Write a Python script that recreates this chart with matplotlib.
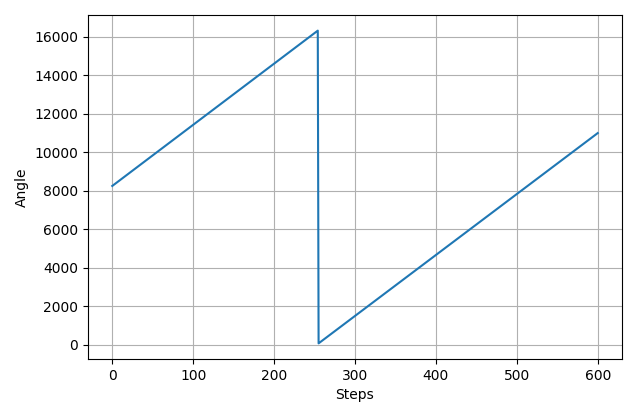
import matplotlib
matplotlib.use("Agg")
import matplotlib.pyplot as plt

# breakpoints
steps = [0, 254, 255, 600]
angle = [8250, 16330, 60, 11000]

fig = plt.figure(figsize=(6.4, 4.09), dpi=100)
ax = fig.add_axes([88 / 640, 1 - 359 / 409, (622 - 88) / 640, (359 - 15) / 409])
ax.plot(steps, angle)
ax.set_xlabel('Steps')
ax.set_ylabel('Angle')
ax.grid(True)
fig.savefig('out.png')
